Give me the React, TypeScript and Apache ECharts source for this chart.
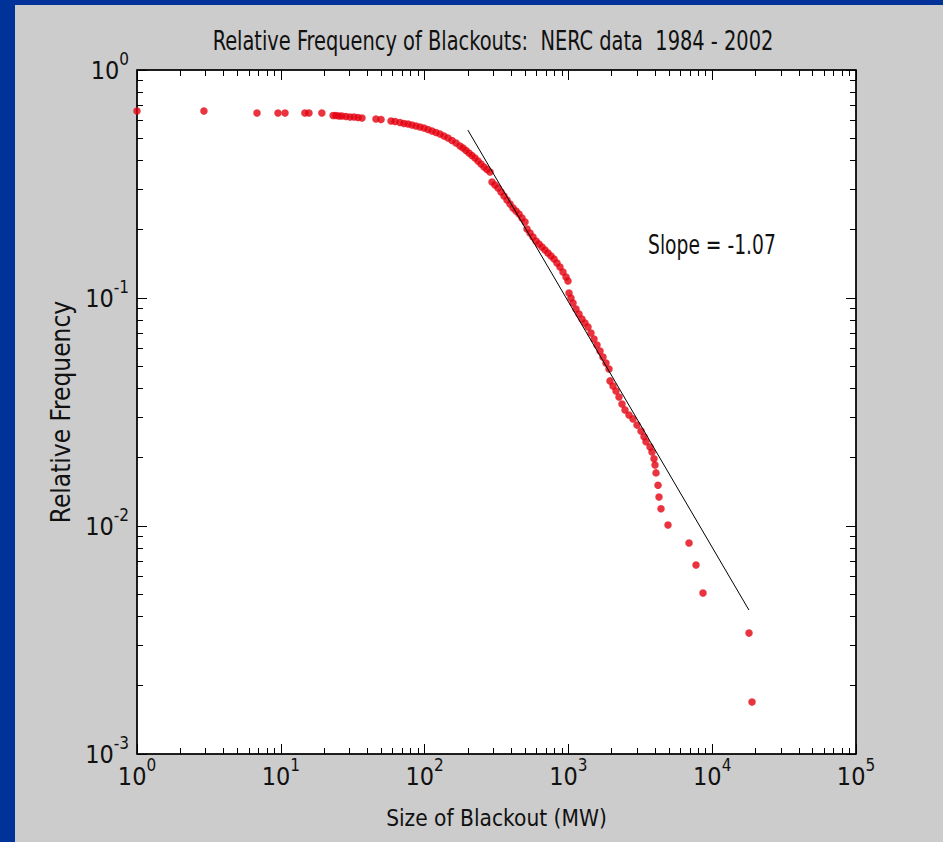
import React, { useEffect, useRef } from "react";
import * as echarts from "echarts";

// ---- data ----
const blackoutSizeMW = [
  1, 2.92, 6.83, 9.56, 10.7, 14.7, 15.7, 19.3,
  23.1, 24.2, 25.4, 26.6, 28.4, 30.3, 32.3, 34.4, 36.7, 45.9, 49.8, 58.4, 62.3,
  67.4, 71.9, 76.7, 81.7, 87.1, 92.9, 99.0, 105.6, 112.6, 120.0, 128.0, 136.4, 145.4,
  155.1, 165.4, 176.3, 185.0, 194.1, 203.6, 213.6, 224.1, 235.1, 246.7, 258.9, 271.6, 285.0,
  294.2, 308.7, 323.9, 339.8, 356.6, 374.1, 392.6, 411.9, 432.2, 453.5, 475.7, 499.2,
  515.4, 540.8, 567.4, 595.4, 624.6, 655.4, 687.7, 721.4, 756.9, 794.2, 833.0, 874.0,
  917.1, 962.3, 993.6, 1010, 1042, 1077, 1129,
  1185, 1243, 1304, 1369, 1436, 1507, 1581, 1659, 1740, 1826, 1916, 1947, 2043, 2143,
  2248, 2359, 2475, 2638, 2813, 3000, 3198, 3355, 3464, 3694, 3815, 3939, 4002, 4067,
  4200, 4266, 4405, 4927, 6900, 7716, 8630, 18030, 18920,
];
const relativeFrequency = [
  0.661, 0.661, 0.648, 0.648, 0.648, 0.648, 0.648, 0.648,
  0.6315, 0.6315, 0.6284, 0.628, 0.6253, 0.6222, 0.622, 0.619, 0.616, 0.61, 0.6065, 0.5974, 0.5944,
  0.5884, 0.5825, 0.5796, 0.5738, 0.568, 0.5623, 0.5566, 0.5483, 0.5401, 0.532, 0.524, 0.5135, 0.5033,
  0.4907, 0.4785, 0.4642, 0.4549, 0.4435, 0.4325, 0.4217, 0.4112, 0.399, 0.387, 0.3755, 0.3661, 0.3569,
  0.3226, 0.313, 0.3037, 0.2916, 0.2801, 0.269, 0.2584, 0.2481, 0.2407, 0.2335, 0.2243, 0.2154,
  0.2007, 0.1928, 0.1851, 0.1778, 0.1725, 0.1674, 0.1624, 0.1575, 0.1529, 0.1483, 0.1424, 0.1368,
  0.13, 0.1236, 0.1187, 0.1052, 0.1, 0.095, 0.0895,
  0.0851, 0.0809, 0.0777, 0.0746, 0.0702, 0.0661, 0.0622, 0.0586, 0.0551, 0.0519, 0.0488, 0.0433, 0.0411, 0.0391,
  0.0368, 0.0343, 0.0323, 0.0307, 0.0295, 0.0277, 0.0261, 0.0246, 0.0234, 0.0222, 0.0211, 0.0197, 0.0185, 0.0171,
  0.0151, 0.0134, 0.0119, 0.0101, 0.00842, 0.00675, 0.00508, 0.00339, 0.00169,
];
const fitLineX = [200, 18000];
const fitLineY = [0.545, 0.00428];

const xDecades = [1, 10, 100, 1000, 10000];
const yDecades = [0.001, 0.01, 0.1];
const minorMultipliers = [2, 3, 4, 5, 6, 7, 8, 9];

const titleText = "Relative Frequency of Blackouts:  NERC data  1984 - 2002";
const xAxisTitle = "Size of Blackout (MW)";
const yAxisTitle = "Relative Frequency";
const slopeText = "Slope = -1.07";

const FONT = "'Liberation Sans Narrow', 'Arial Narrow', 'DejaVu Sans Condensed', sans-serif";

export default function App() {
  const ref = useRef<HTMLDivElement>(null);

  useEffect(() => {
    if (!ref.current) return;
    const chart = echarts.init(ref.current, undefined, { renderer: "svg" });

    const minorLog = (decades: number[]) => {
      const out: number[] = [];
      decades.forEach((d) => minorMultipliers.forEach((m) => out.push(Math.log10(d * m))));
      return out;
    };
    const minorX = minorLog(xDecades);
    const minorY = minorLog(yDecades);

    const expLabel = (v: number) => `{b|10}{e|${Math.round(Math.log10(v))}}`;
    const rich = {
      b: { fontSize: 25, lineHeight: 40, fontFamily: FONT, color: "#111" },
      e: { fontSize: 17, lineHeight: 12, verticalAlign: "top", fontFamily: FONT, color: "#111" },
    };

    const pts = blackoutSizeMW.map((x, i) => [x, relativeFrequency[i]]);
    const line = fitLineX.map((x, i) => [x, fitLineY[i]]);

    const majorTick = { show: true, inside: true, length: 10, lineStyle: { color: "#000", width: 1 } };
    const axisLine = { show: true, onZero: false, lineStyle: { color: "#000", width: 1.5 } };
    const minorAxis = (pos: string, min: number, max: number, vals: number[]) => ({
      type: "value",
      position: pos,
      min,
      max,
      axisLine: { show: false, onZero: false },
      axisTick: { show: true, inside: true, length: 6, customValues: vals, lineStyle: { color: "#000", width: 1 } },
      axisLabel: { show: false },
      splitLine: { show: false },
    });

    chart.setOption({
      animation: false,
      backgroundColor: "#003399",
      graphic: [
        { type: "rect", z: -100, shape: { x: 15, y: 5, width: 928, height: 837 }, style: { fill: "#cccccc" }, silent: true },
        {
          type: "text",
          x: 493,
          y: 41,
          scaleX: 0.83,
          style: { text: titleText, font: `26px ${FONT}`, fill: "#111", align: "center", verticalAlign: "middle", textAlign: "center", textVerticalAlign: "middle" },
        },
        {
          type: "text",
          x: 648,
          y: 245,
          z: 10,
          scaleX: 0.8,
          style: { text: slopeText, font: `26px ${FONT}`, fill: "#111", align: "left", verticalAlign: "middle", textAlign: "left", textVerticalAlign: "middle" },
        },
      ],
      grid: { left: 137, top: 70, width: 719, height: 684, show: true, backgroundColor: "#ffffff", borderColor: "#000", borderWidth: 1 },
      xAxis: [
        {
          type: "log",
          logBase: 10,
          min: 1,
          max: 100000,
          position: "bottom",
          axisLine,
          axisTick: majorTick,
          axisLabel: { formatter: expLabel, rich, margin: 2 },
          splitLine: { show: false },
          name: xAxisTitle,
          nameLocation: "middle",
          nameGap: 52,
          nameTextStyle: { fontSize: 22.5, fontFamily: FONT, color: "#111", verticalAlign: "top" },
        },
        {
          type: "log",
          logBase: 10,
          min: 1,
          max: 100000,
          position: "top",
          axisLine,
          axisTick: majorTick,
          axisLabel: { show: false },
          splitLine: { show: false },
        },
        minorAxis("bottom", 0, 5, minorX),
        minorAxis("top", 0, 5, minorX),
      ],
      yAxis: [
        {
          type: "log",
          logBase: 10,
          min: 0.001,
          max: 1,
          position: "left",
          axisLine,
          axisTick: majorTick,
          axisLabel: { formatter: expLabel, rich, margin: 8 },
          splitLine: { show: false },
          name: yAxisTitle,
          nameLocation: "middle",
          nameGap: 57,
          nameTextStyle: { fontSize: 26, fontFamily: FONT, color: "#111" },
        },
        {
          type: "log",
          logBase: 10,
          min: 0.001,
          max: 1,
          position: "right",
          axisLine,
          axisTick: majorTick,
          axisLabel: { show: false },
          splitLine: { show: false },
        },
        minorAxis("left", -3, 0, minorY),
        minorAxis("right", -3, 0, minorY),
      ],
      series: [
        {
          type: "scatter",
          xAxisIndex: 0,
          yAxisIndex: 0,
          data: pts,
          symbol: "circle",
          symbolSize: 7.5,
          itemStyle: { color: "#e3000f" },
          z: 3,
        },
        {
          type: "line",
          xAxisIndex: 0,
          yAxisIndex: 0,
          data: line,
          symbol: "none",
          lineStyle: { color: "#000", width: 1 },
          z: 4,
        },
      ],
    });

    return () => chart.dispose();
  }, []);

  return (
    <div
      ref={ref}
      style={{ position: "fixed", left: 0, top: 0, width: 943, height: 842 }}
    />
  );
}
